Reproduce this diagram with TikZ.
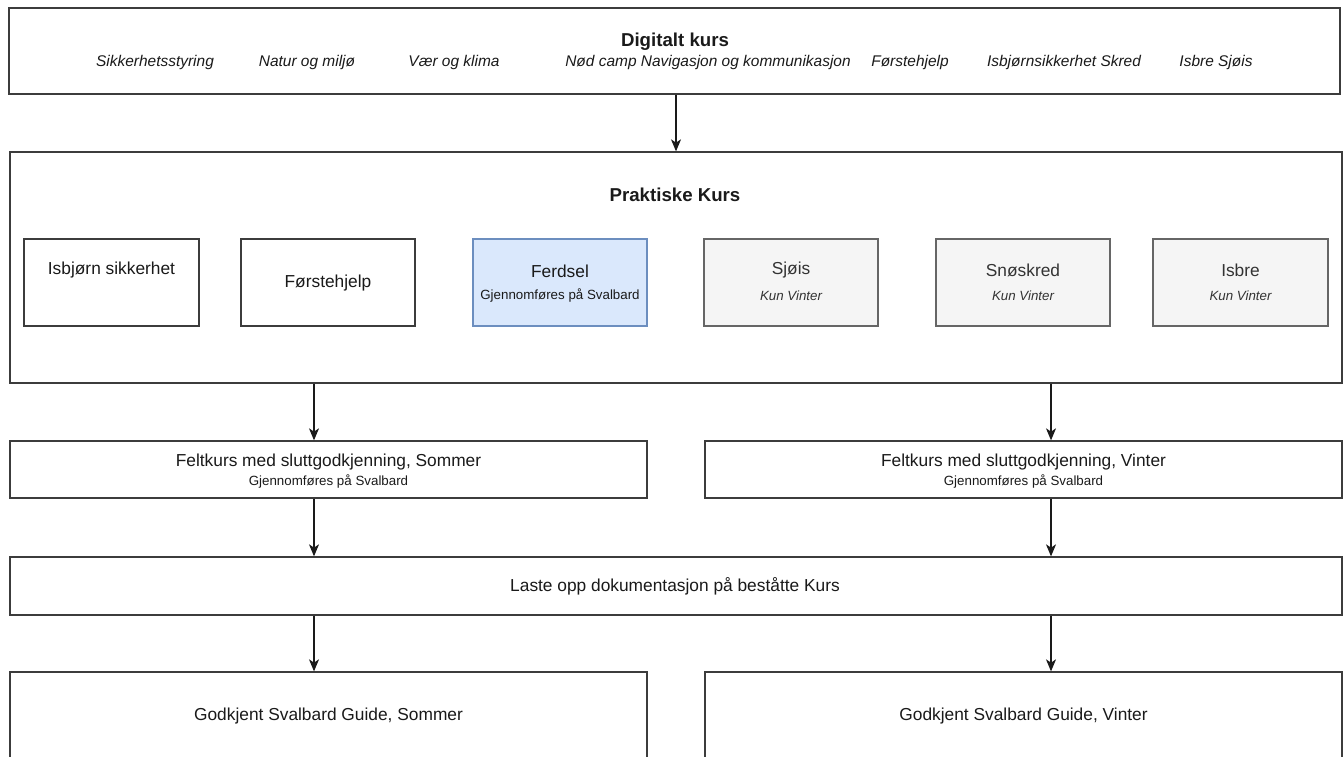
\documentclass[tikz,border=0pt]{standalone}
\usepackage{fontspec}
\setmainfont{Liberation Sans}
\usetikzlibrary{arrows.meta}
\definecolor{ink}{HTML}{1A1A1A}
\definecolor{bluefill}{HTML}{DAE8FC}
\definecolor{bluedraw}{HTML}{6C8EBF}
\definecolor{grayfill}{HTML}{F5F5F5}
\definecolor{graydraw}{HTML}{666666}
\definecolor{graytext}{HTML}{333333}
\tikzset{
  box/.style={draw=ink!85, line width=1pt, rectangle, inner sep=0pt},
  bluebox/.style={draw=bluedraw, fill=bluefill, line width=0.8pt, rectangle, inner sep=0pt},
  greybox/.style={draw=graydraw, fill=grayfill, line width=0.8pt, rectangle, inner sep=0pt},
  maintxt/.style={font=\fontsize{13}{15}\selectfont, text=ink, inner sep=0pt},
  titletxt/.style={font=\fontsize{14}{16}\selectfont\bfseries, text=ink, inner sep=0pt},
  itemtxt/.style={font=\fontsize{11.6}{14}\selectfont\itshape, text=ink, inner sep=0pt},
  subtxt/.style={font=\fontsize{10}{12}\selectfont, text=ink, inner sep=0pt},
  kuntxt/.style={font=\fontsize{10}{12}\selectfont\itshape, text=graytext, inner sep=0pt},
  arr/.style={draw=ink, line width=0.8pt, -{Stealth[length=9pt,width=7.5pt,inset=2.5pt]}}
}
\begin{document}
\begin{tikzpicture}[x=0.75pt,y=-0.75pt]
\useasboundingbox (0,0) rectangle (1344,756);
\clip (0,0) rectangle (1344,756);
\fill[white] (0,0) rectangle (1344,756);

% Digitalt kurs
\node[box, minimum width=998.25pt, minimum height=64.5pt] (dig) at (674.5,51) {};
\node[titletxt] (digt) at (675,42) {Digitalt kurs};
\node[itemtxt] (d1) at (155,63) {Sikkerhetsstyring};
\node[itemtxt] (d2) at (307,63) {Natur og miljø};
\node[itemtxt] (d3) at (454,63) {Vær og klima};
\node[itemtxt] (d4) at (708,63) {Nød camp Navigasjon og kommunikasjon};
\node[itemtxt] (d5) at (910,63) {Førstehjelp};
\node[itemtxt] (d6) at (1064,63) {Isbjørnsikkerhet Skred};
\node[itemtxt] (d7) at (1216,63) {Isbre Sjøis};

% Praktiske Kurs
\node[box, minimum width=999pt, minimum height=173.25pt] (prak) at (676,267.5) {};
\node[titletxt] (prakt) at (675,195) {Praktiske Kurs};

\node[box, minimum width=131.25pt, minimum height=65.25pt] (isb) at (111.5,282.5) {};
\node[maintxt] (isbt) at (111.5,270) {Isbjørn sikkerhet};

\node[box, minimum width=130.5pt, minimum height=65.25pt] (fors) at (328,282.5) {};
\node[maintxt] (forst) at (328,283) {Førstehjelp};

\node[bluebox, minimum width=130.5pt, minimum height=65.25pt] (ferd) at (560,282.5) {};
\node[maintxt] (ferdt) at (560,271) {Ferdsel};
\node[subtxt] (ferds) at (560,296) {Gjennomføres på Svalbard};

\node[greybox, minimum width=130.5pt, minimum height=65.25pt] (sjo) at (791,282.5) {};
\node[maintxt, text=graytext] (sjot) at (791,270) {Sjøis};
\node[kuntxt] (sjos) at (791,296) {Kun Vinter};

\node[greybox, minimum width=130.5pt, minimum height=65.25pt] (sno) at (1023,282.5) {};
\node[maintxt, text=graytext] (snot) at (1023,270) {Snøskred};
\node[kuntxt] (snos) at (1023,296) {Kun Vinter};

\node[greybox, minimum width=131.25pt, minimum height=65.25pt] (isbre) at (1240.5,282.5) {};
\node[maintxt, text=graytext] (isbret) at (1240.5,270) {Isbre};
\node[kuntxt] (isbres) at (1240.5,296) {Kun Vinter};

% Feltkurs
\node[box, minimum width=477.75pt, minimum height=42.75pt] (feltS) at (328.5,469.5) {};
\node[maintxt] (feltSt) at (328.5,462) {Feltkurs med sluttgodkjenning, Sommer};
\node[subtxt] (feltSs) at (328.5,482) {Gjennomføres på Svalbard};

\node[box, minimum width=477.75pt, minimum height=42.75pt] (feltV) at (1023.5,469.5) {};
\node[maintxt] (feltVt) at (1023.5,462) {Feltkurs med sluttgodkjenning, Vinter};
\node[subtxt] (feltVs) at (1023.5,482) {Gjennomføres på Svalbard};

% Laste opp
\node[box, minimum width=999pt, minimum height=43.5pt] (laste) at (676,586) {};
\node[maintxt] (lastet) at (675,586) {Laste opp dokumentasjon på beståtte Kurs};

% Godkjent
\node[box, minimum width=477.75pt, minimum height=66pt] (godS) at (328.5,716) {};
\node[maintxt] (godSt) at (328.5,716) {Godkjent Svalbard Guide, Sommer};
\node[box, minimum width=477.75pt, minimum height=66pt] (godV) at (1023.5,716) {};
\node[maintxt] (godVt) at (1023.5,716) {Godkjent Svalbard Guide, Vinter};

% connectors
\coordinate (xm) at (676,0);
\coordinate (xs) at (314,0);
\coordinate (xv) at (1051,0);
\draw[arr] (dig.south -| xm) -- (prak.north -| xm);
\draw[arr] (prak.south -| xs) -- (feltS.north -| xs);
\draw[arr] (prak.south -| xv) -- (feltV.north -| xv);
\draw[arr] (feltS.south -| xs) -- (laste.north -| xs);
\draw[arr] (feltV.south -| xv) -- (laste.north -| xv);
\draw[arr] (laste.south -| xs) -- (godS.north -| xs);
\draw[arr] (laste.south -| xv) -- (godV.north -| xv);
\end{tikzpicture}
\end{document}
